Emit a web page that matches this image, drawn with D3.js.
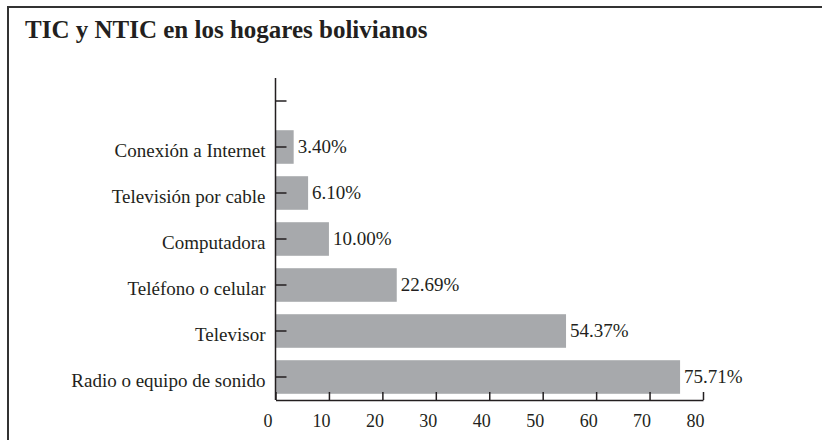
<!DOCTYPE html>
<html>
<head>
<meta charset="utf-8">
<script src="https://cdn.jsdelivr.net/npm/d3@7"></script>
<style>
  html, body { margin: 0; padding: 0; background: #fff; }
  svg { display: block; font-family: "Liberation Serif", "Times New Roman", serif; }
</style>
</head>
<body>
<svg id="chart" width="822" height="440"></svg>
<script>
// Hogares con acceso a cada tecnología (%)
const categories = ["Radio o equipo de sonido", "Televisor", "Teléfono o celular",
                    "Computadora", "Televisión por cable", "Conexión a Internet"];
const values = [75.71, 54.37, 22.69, 10.00, 6.10, 3.40];
const xTicks = [0, 10, 20, 30, 40, 50, 60, 70, 80];
const title = "TIC y NTIC en los hogares bolivianos";

const svg = d3.select("#chart");
const ink = "#231f20";
const serif = "'Liberation Serif', 'Times New Roman', serif";

// marco
svg.append("rect")
  .attr("x", 8).attr("y", 7)
  .attr("width", 830).attr("height", 450)
  .attr("fill", "none").attr("stroke", "#333").attr("stroke-width", 2);

svg.append("text")
  .attr("x", 25).attr("y", 38)
  .attr("font-size", 25).attr("font-weight", "bold").attr("fill", ink)
  .text(title);

const x = d3.scaleLinear().domain([0, 80]).range([275.5, 703]);
// una franja vacía arriba del todo
const slots = categories.slice().concat([" "]);
const y = d3.scaleBand().domain(slots.slice().reverse()).range([78, 400]).paddingInner(0.27).paddingOuter(0.135);

const data = categories.map((c, i) => ({ c, v: values[i] }));

svg.append("g").selectAll("rect").data(data).join("rect")
  .attr("x", x(0))
  .attr("y", d => y(d.c))
  .attr("width", d => x(d.v) - x(0))
  .attr("height", y.bandwidth())
  .attr("fill", "#a7a9ac");

svg.append("g").selectAll("text").data(data).join("text")
  .attr("x", d => x(d.v) + 4)
  .attr("y", d => y(d.c) + y.bandwidth() / 2)
  .attr("dy", "0.3em")
  .attr("font-size", 19).attr("fill", ink)
  .text(d => d.v.toFixed(2) + "%");

// eje vertical
const yAxis = svg.append("g")
  .attr("transform", `translate(${x(0)},0)`)
  .call(d3.axisLeft(y).tickSizeInner(-11).tickSizeOuter(0).tickPadding(10))
  .attr("font-family", serif).attr("font-size", 19);
yAxis.select(".domain").attr("d", "M0,78V400");
yAxis.selectAll("text").attr("fill", ink).attr("dy", "0.55em");
yAxis.selectAll("line, path").attr("stroke", ink).attr("stroke-width", 1.5);

// eje horizontal
const xAxis = svg.append("g")
  .attr("transform", "translate(0,400)")
  .call(d3.axisBottom(x).tickValues(xTicks).tickSizeInner(-8).tickSizeOuter(0).tickPadding(14))
  .attr("font-family", serif).attr("font-size", 18);
xAxis.selectAll("text").attr("fill", ink).attr("dx", -8);
xAxis.selectAll("line, path").attr("stroke", ink).attr("stroke-width", 1.5);
</script>
</body>
</html>
